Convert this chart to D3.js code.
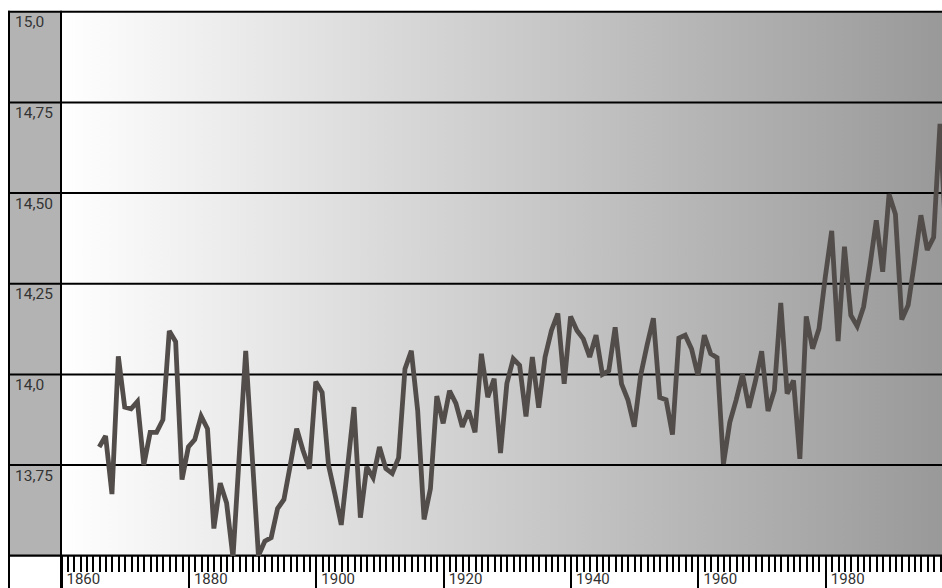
<!DOCTYPE html>
<html>
<head>
<meta charset="utf-8">
<script src="https://cdn.jsdelivr.net/npm/d3@7"></script>
<style>
  html, body { margin: 0; padding: 0; background: #ffffff; overflow: hidden; }
  svg { display: block; }
  text { font-family: Roboto, "Noto Sans", "DejaVu Sans", sans-serif; }
</style>
</head>
<body>
<svg id="chart" width="942" height="588"></svg>
<script>
// ---- data ----
const years = [
  1866,1867,1868,1869,1870,1871,1872,1873,1874,1875,1876,1877,1878,1879,
  1880,1881,1882,1883,1884,1885,1886,1887,1888,1889,1890,1891,1892,1893,1894,1895,1896,1897,1898,1899,
  1900,1901,1902,1903,1904,1905,1906,1907,1908,1909,1910,1911,1912,1913,1914,1915,1916,1917,1918,1919,
  1920,1921,1922,1923,1924,1925,1926,1927,1928,1929,1930,1931,1932,1933,1934,1935,1936,1937,1938,1939,
  1940,1941,1942,1943,1944,1945,1946,1947,1948,1949,1950,1951,1952,1953,1954,1955,1956,1957,1958,1959,
  1960,1961,1962,1963,1964,1965,1966,1967,1968,1969,1970,1971,1972,1973,1974,1975,1976,1977,1978,1979,
  1980,1981,1982,1983,1984,1985,1986,1987,1988,1989,1990,1991,1992,1993,1994,1995,1996,1997,1998,1999
];
const temps = [
  13.80,13.83,13.67,14.05,13.91,13.905,13.925,13.75,13.84,13.84,13.875,14.12,14.09,13.71,
  13.80,13.82,13.885,13.85,13.575,13.70,13.645,13.495,13.78,14.065,13.78,13.50,13.54,13.55,13.63,13.655,13.75,13.85,13.79,13.74,
  13.98,13.95,13.75,13.67,13.585,13.745,13.91,13.605,13.745,13.715,13.80,13.74,13.727,13.77,14.015,14.065,13.90,13.60,13.685,13.94,
  13.865,13.955,13.92,13.855,13.90,13.84,14.057,13.937,13.988,13.783,13.975,14.043,14.025,13.884,14.048,13.908,14.048,14.121,14.168,13.974,
  14.16,14.121,14.098,14.048,14.108,14.00,14.01,14.13,13.974,13.93,13.856,13.997,14.08,14.155,13.936,13.93,13.834,14.10,14.108,14.07,
  13.997,14.108,14.057,14.046,13.753,13.868,13.93,14.00,13.908,13.98,14.064,13.899,13.956,14.197,13.947,13.983,13.767,14.16,14.071,14.126,
  14.27,14.396,14.092,14.352,14.163,14.133,14.186,14.30,14.425,14.283,14.497,14.442,14.151,14.191,14.31,14.439,14.343,14.378,14.691,14.35
];
const yTicks = [15.0, 14.75, 14.5, 14.25, 14.0, 13.75];
const yTickLabels = ["15,0", "14,75", "14,50", "14,25", "14,0", "13,75"];
const xMajorTicks = [1860, 1880, 1900, 1920, 1940, 1960, 1980];
const xMinorTicks = [
  1860,1861,1862,1863,1864,1865,1866,1867,1868,1869,1870,1871,1872,1873,1874,1875,1876,1877,1878,1879,
  1880,1881,1882,1883,1884,1885,1886,1887,1888,1889,1890,1891,1892,1893,1894,1895,1896,1897,1898,1899,
  1900,1901,1902,1903,1904,1905,1906,1907,1908,1909,1910,1911,1912,1913,1914,1915,1916,1917,1918,1919,
  1920,1921,1922,1923,1924,1925,1926,1927,1928,1929,1930,1931,1932,1933,1934,1935,1936,1937,1938,1939,
  1940,1941,1942,1943,1944,1945,1946,1947,1948,1949,1950,1951,1952,1953,1954,1955,1956,1957,1958,1959,
  1960,1961,1962,1963,1964,1965,1966,1967,1968,1969,1970,1971,1972,1973,1974,1975,1976,1977,1978,1979,
  1980,1981,1982,1983,1984,1985,1986,1987,1988,1989,1990,1991,1992,1993,1994,1995,1996,1997,1998
];

// ---- layout ----
const W = 942, H = 588;
const plotL = 61, plotT = 12, plotB = 556;
const colL = 9;

const svg = d3.select("#chart");

const x = d3.scaleLinear().domain([1860, 1998]).range([plotL, 940]);
const y = d3.scaleLinear().domain([13.5, 15]).range([555.7, 11.8]);

// gradient background
const defs = svg.append("defs");
const grad = defs.append("linearGradient")
  .attr("id", "bg").attr("gradientUnits", "userSpaceOnUse")
  .attr("x1", plotL).attr("x2", W).attr("y1", 0).attr("y2", 0);
grad.append("stop").attr("offset", "0%").attr("stop-color", "#ffffff");
grad.append("stop").attr("offset", "100%").attr("stop-color", "#999999");

defs.append("clipPath").attr("id", "clip")
  .append("rect").attr("x", plotL).attr("y", plotT).attr("width", W - plotL).attr("height", plotB - plotT);

// label column
svg.append("rect").attr("x", colL).attr("y", y(15)).attr("width", plotL - colL).attr("height", y(13.5) - y(15))
  .attr("fill", "#b3b3b3");
// plot area
svg.append("rect").attr("x", plotL).attr("y", y(15)).attr("width", W - plotL).attr("height", y(13.5) - y(15))
  .attr("fill", "url(#bg)");

// horizontal grid lines (across column and plot)
svg.append("g").selectAll("line").data(yTicks).join("line")
  .attr("x1", colL - 1).attr("x2", W)
  .attr("y1", d => y(d)).attr("y2", d => y(d))
  .attr("stroke", "#000").attr("stroke-width", 2);

// axis baseline
svg.append("line").attr("x1", colL - 1).attr("x2", W).attr("y1", y(13.5)).attr("y2", y(13.5))
  .attr("stroke", "#000").attr("stroke-width", 2.2);

// vertical borders
svg.append("line").attr("x1", colL).attr("x2", colL).attr("y1", y(15) - 1).attr("y2", H)
  .attr("stroke", "#000").attr("stroke-width", 2);
svg.append("line").attr("x1", plotL).attr("x2", plotL).attr("y1", y(15) - 1).attr("y2", H)
  .attr("stroke", "#000").attr("stroke-width", 2);

// y labels
svg.append("g").selectAll("text").data(yTicks).join("text")
  .attr("x", 15).attr("y", d => y(d) + 15.5)
  .attr("font-size", 15.5).attr("fill", "#333")
  .text((d, i) => yTickLabels[i]);

// x axis: minor ticks
const minorAxis = d3.axisBottom(x).tickValues(xMinorTicks).tickSize(16).tickFormat("");
const gMinor = svg.append("g").attr("transform", `translate(0,${plotB})`).call(minorAxis);
gMinor.select(".domain").remove();
gMinor.selectAll(".tick line").attr("stroke", "#000").attr("stroke-width", 2).attr("shape-rendering", "crispEdges");

// x axis: major ticks with labels
const majorAxis = d3.axisBottom(x).tickValues(xMajorTicks).tickSize(34).tickFormat(d3.format("d"));
const gMajor = svg.append("g").attr("transform", `translate(0,${plotB})`).call(majorAxis);
gMajor.select(".domain").remove();
gMajor.selectAll(".tick line").attr("stroke", "#000").attr("stroke-width", 2).attr("shape-rendering", "crispEdges");
gMajor.selectAll(".tick text")
  .attr("x", 5).attr("y", 28).attr("dy", 0)
  .attr("text-anchor", "start")
  .attr("font-size", 15).attr("fill", "#333")
  .attr("font-family", "Roboto, 'Noto Sans', sans-serif");

// data line
const line = d3.line().x((d, i) => x(years[i])).y(d => y(d));
svg.append("path")
  .datum(temps)
  .attr("clip-path", "url(#clip)")
  .attr("d", line)
  .attr("fill", "none")
  .attr("stroke", "#524d4a")
  .attr("stroke-width", 4.8)
  .attr("stroke-linejoin", "miter")
  .attr("stroke-miterlimit", 3);
</script>
</body>
</html>
